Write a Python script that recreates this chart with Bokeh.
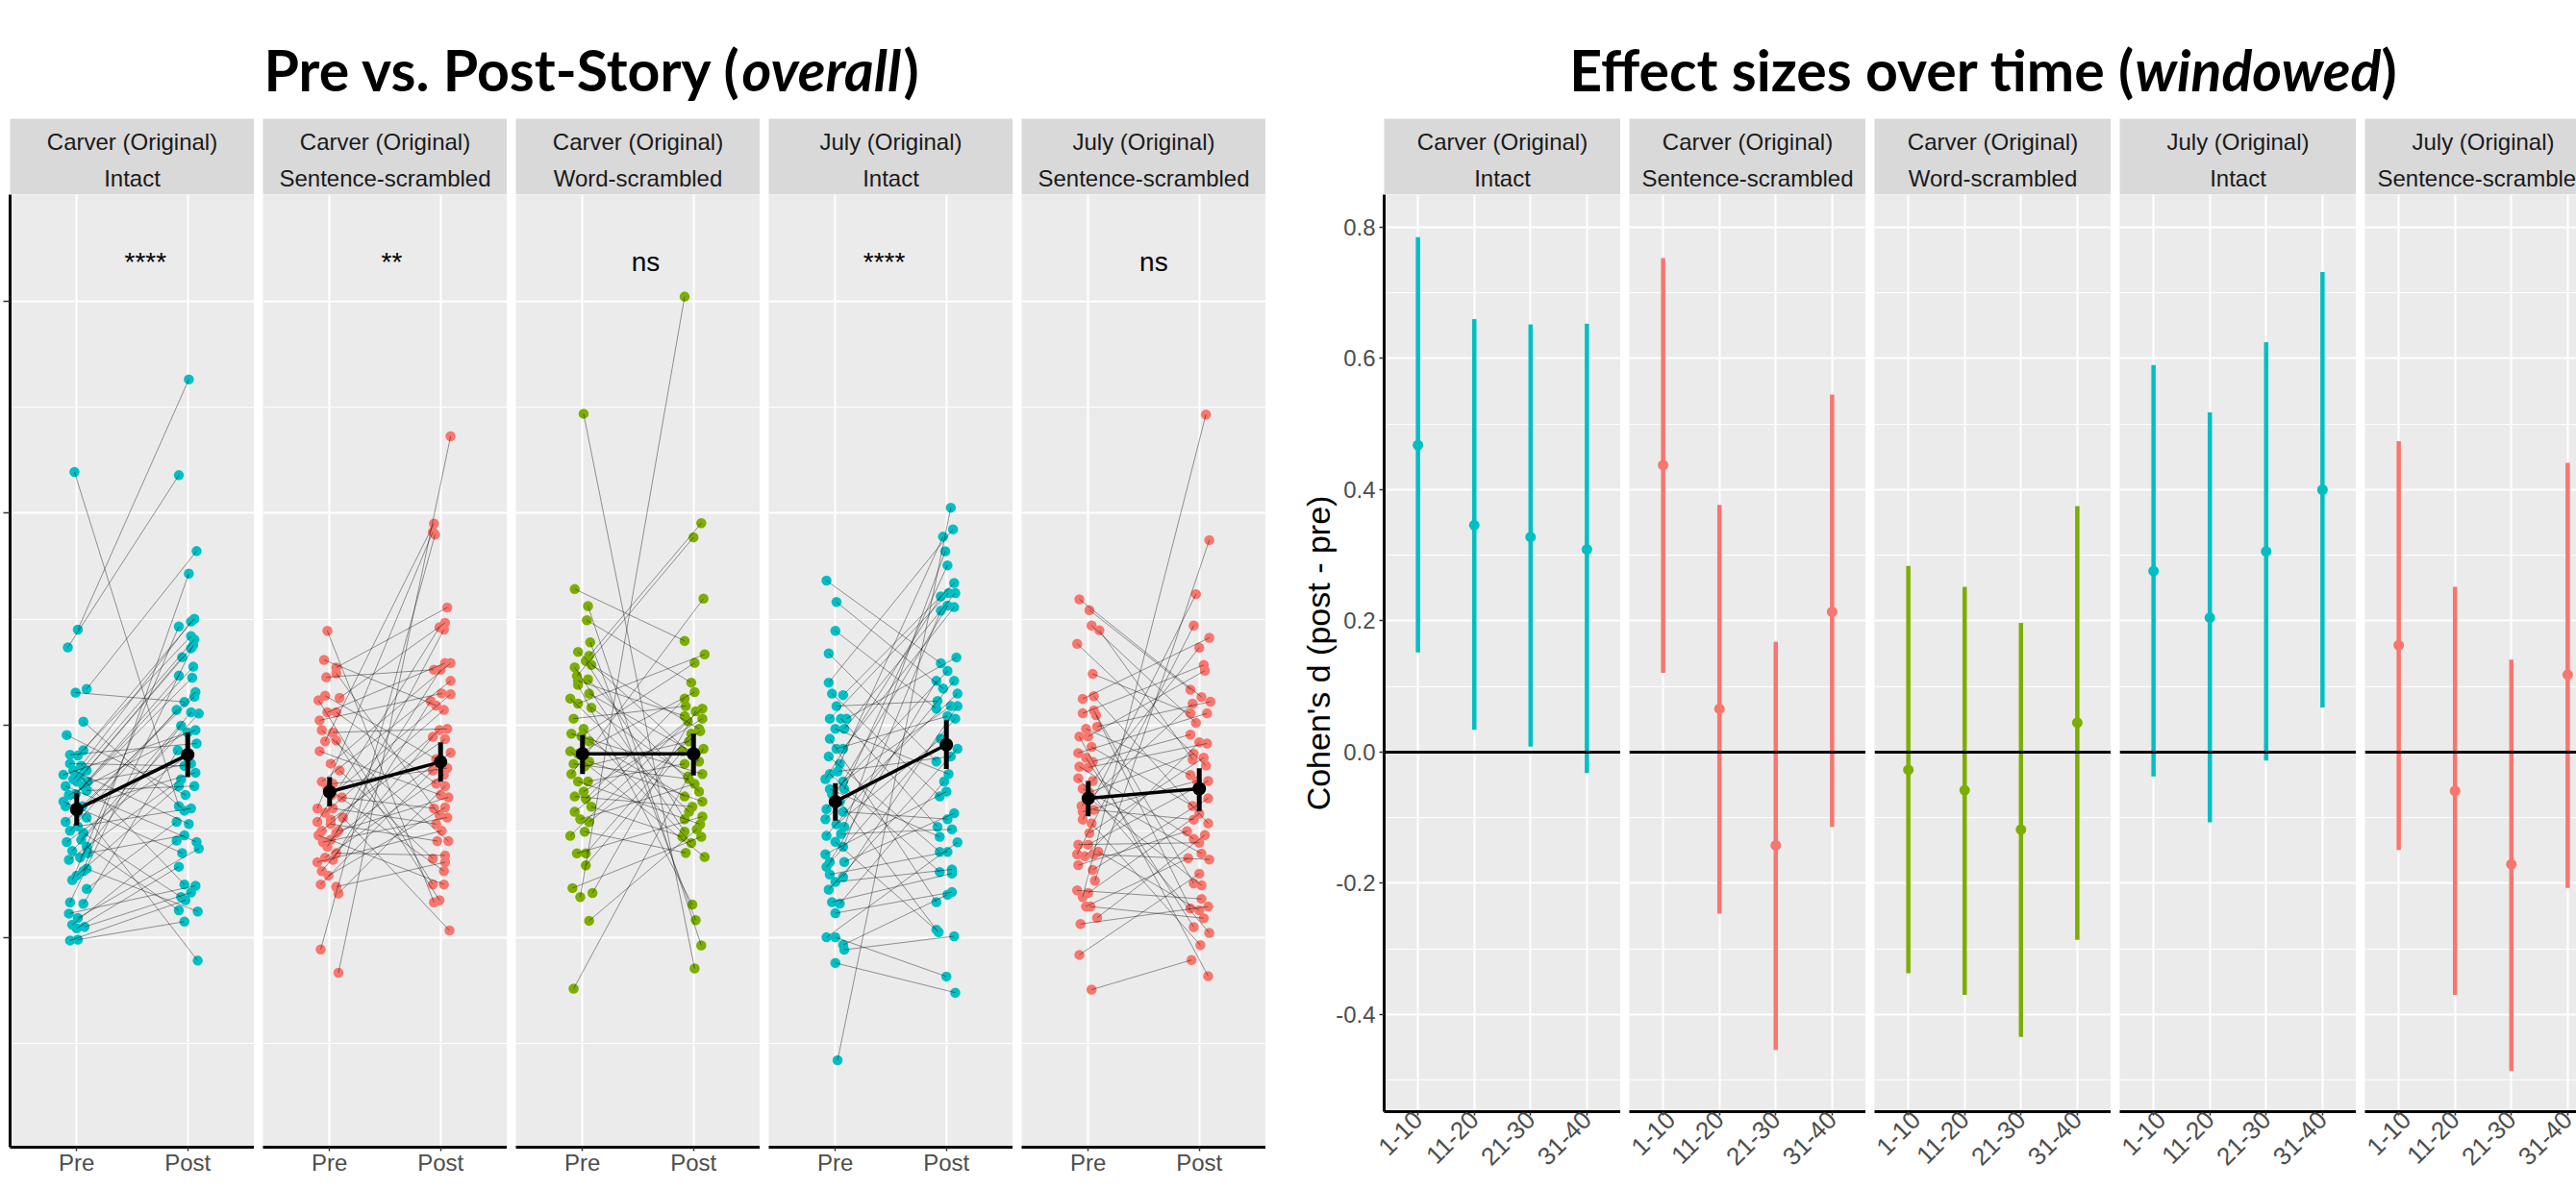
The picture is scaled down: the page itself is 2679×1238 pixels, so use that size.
import math
from bokeh.plotting import figure
from bokeh.models import Range1d, FixedTicker, Span, Label
from bokeh.layouts import row, column
from bokeh.embed import file_html
from bokeh.resources import INLINE
from bokeh.core.properties import value

# ---------------- data: left chart (pre vs post, overall) ----------------
strip_story = ["Carver (Original)", "Carver (Original)", "Carver (Original)", "July (Original)", "July (Original)"]
strip_version = ["Intact", "Sentence-scrambled", "Word-scrambled", "Intact", "Sentence-scrambled"]
conditions = ["Pre", "Post"]
sig_labels = ["****", "**", "ns", "****", "ns"]
sig_label_x = [1.62, 1.56, 1.57, 1.44, 1.59]
sig_label_y = 0.5184

pre_mean = [0.2603, 0.2686, 0.2865, 0.2640, 0.2655]
pre_lo = [0.2527, 0.2618, 0.2770, 0.2550, 0.2570]
pre_hi = [0.2682, 0.2755, 0.2953, 0.2727, 0.2737]
post_mean = [0.2861, 0.2827, 0.2865, 0.2908, 0.2701]
post_lo = [0.2755, 0.2734, 0.2763, 0.2794, 0.2595]
post_hi = [0.2966, 0.2920, 0.2960, 0.3024, 0.2797]

pre_1 = [0.4194,0.3451,0.3367,0.3171,0.3154,0.3017,0.2954,0.2882,0.2861,0.2857,
         0.2819,0.2808,0.2787,0.2787,0.2766,0.2760,0.2745,0.2734,0.2734,0.2713,
         0.2713,0.2692,0.2675,0.2671,0.2640,0.2618,0.2618,0.2587,0.2565,0.2544,
         0.2523,0.2502,0.2492,0.2460,0.2449,0.2428,0.2407,0.2397,0.2376,0.2365,
         0.2323,0.2312,0.2291,0.2270,0.2228,0.2165,0.2158,0.2112,0.2091,0.2059,
         0.2049,0.2042,0.1985,0.1989]
pre_jit_1 = [-0.02,0.01,-0.08,0.09,-0.01,0.06,-0.09,0.06,-0.06,0.01,
             -0.06,0.04,-0.03,0.09,-0.12,0.03,-0.03,0.10,0.00,-0.10,
             0.06,0.09,-0.01,-0.07,-0.12,-0.10,0.05,0.01,0.09,-0.10,
             0.01,-0.06,0.06,0.04,-0.09,0.09,-0.04,0.10,0.03,-0.07,
             0.09,0.06,0.00,-0.04,0.09,-0.06,0.06,-0.07,0.01,-0.04,
             0.07,0.00,-0.06,0.01]
post_1 = [0.2618,0.4631,0.4179,0.3821,0.3110,0.2597,0.2671,0.3502,0.2914,0.3420,
          0.2808,0.3489,0.2534,0.3363,0.2977,0.2249,0.3405,0.2819,0.3321,0.2449,
          0.3276,0.2713,0.3224,0.2966,0.2397,0.3234,0.2776,0.3156,0.1890,0.3135,
          0.2608,0.3072,0.2190,0.3061,0.2861,0.2127,0.3055,0.2481,0.2998,0.2745,
          0.2122,0.3715,0.2713,0.3466,0.2544,0.3378,0.2882,0.2243,0.2418,0.2456,
          0.2211,0.2333,0.2175,0.2074]
post_jit_1 = [-0.08,0.01,-0.08,0.08,-0.03,-0.03,-0.02,0.06,0.08,0.03,
              -0.03,0.03,0.01,0.03,0.07,-0.03,0.06,0.03,-0.05,0.08,
              0.05,0.06,0.04,0.00,-0.05,-0.08,0.07,0.07,0.09,0.06,
              0.03,-0.10,-0.06,0.03,0.01,-0.08,0.10,-0.03,-0.06,-0.06,
              0.09,0.01,-0.08,-0.08,-0.10,0.05,-0.09,0.07,0.10,-0.10,
              0.03,-0.08,-0.02,-0.03]

pre_2 = [0.3445,0.3308,0.3272,0.3245,0.3226,0.3139,0.3129,0.3118,0.3061,0.3061,
         0.3023,0.2977,0.2966,0.2928,0.2924,0.2878,0.2819,0.2787,0.2734,0.2724,
         0.2703,0.2671,0.2660,0.2608,0.2608,0.2587,0.2565,0.2555,0.2544,0.2534,
         0.2502,0.2502,0.2492,0.2481,0.2460,0.2449,0.2428,0.2397,0.2376,0.2365,
         0.2354,0.2312,0.2291,0.2249,0.2238,0.2207,0.1943,0.1833]
pre_jit_2 = [-0.02,-0.05,0.06,0.06,-0.03,-0.04,0.09,-0.10,-0.02,0.06,
             -0.09,-0.07,0.03,0.06,-0.04,-0.09,0.01,0.09,-0.07,0.03,
             -0.02,0.02,0.11,-0.11,0.03,-0.04,0.12,0.01,-0.11,0.01,
             -0.07,0.08,0.06,-0.10,0.01,-0.06,-0.02,0.06,-0.04,0.03,
             -0.11,-0.07,-0.01,-0.08,0.06,0.08,-0.08,0.08]
post_2 = [0.2165,0.3093,0.3555,0.2576,0.3262,0.2840,0.3483,0.2249,0.3293,0.2724,
          0.3150,0.2454,0.2983,0.2175,0.3951,0.2671,0.3293,0.2371,0.3209,0.2798,
          0.2312,0.3146,0.2608,0.3911,0.2534,0.3072,0.2032,0.2935,0.3462,0.2454,
          0.2977,0.2660,0.3451,0.2249,0.2871,0.2565,0.3262,0.2386,0.2766,0.3114,
          0.2502,0.2945,0.2612,0.2787,0.2354,0.2713,0.3899,0.4363]
post_jit_2 = [-0.06,-0.04,0.06,-0.01,-0.06,-0.04,0.04,-0.07,0.04,-0.04,
              0.01,0.07,0.06,-0.01,-0.06,0.00,0.09,-0.07,0.09,0.06,
              0.03,0.09,-0.06,-0.07,-0.04,0.03,0.08,0.04,-0.01,-0.03,
              -0.01,0.07,0.03,0.03,0.09,0.06,0.00,0.04,0.03,-0.09,
              0.01,-0.07,0.04,-0.07,0.04,0.04,-0.05,0.09]

pre_3 = [0.4469,0.3642,0.3562,0.3495,0.3391,0.3346,0.3327,0.3303,0.3284,0.3273,
         0.3232,0.3216,0.3209,0.3190,0.3149,0.3126,0.3102,0.3083,0.3031,0.2983,
         0.2960,0.2948,0.2924,0.2877,0.2865,0.2829,0.2818,0.2806,0.2770,0.2735,
         0.2735,0.2687,0.2664,0.2652,0.2616,0.2592,0.2557,0.2543,0.2498,0.2479,
         0.2396,0.2396,0.2339,0.2232,0.2209,0.2190,0.2078,0.1758]
pre_jit_3 = [0.01,-0.07,0.05,0.04,0.07,-0.04,0.06,0.03,0.08,-0.07,
             -0.05,0.05,-0.04,-0.04,0.06,-0.11,-0.04,0.08,-0.08,0.01,
             -0.10,-0.01,0.06,-0.11,-0.04,0.06,-0.08,0.02,-0.10,-0.04,
             0.05,0.01,-0.07,0.03,0.08,-0.07,-0.02,0.06,0.02,-0.11,
             -0.05,0.03,0.03,-0.09,0.09,-0.02,0.06,-0.08]
post_3 = [0.1853,0.3398,0.1962,0.3201,0.2081,0.2829,0.3953,0.2557,0.2983,0.2498,
          0.3886,0.2687,0.3043,0.2154,0.2865,0.2592,0.3334,0.2758,0.3090,0.2445,
          0.2770,0.3294,0.2664,0.2379,0.3156,0.2640,0.2746,0.2924,0.3597,0.2533,
          0.2818,0.3031,0.2616,0.3126,0.2474,0.3078,0.2723,0.2972,0.2398,0.3019,
          0.2569,0.2960,0.2877,0.2474,0.3066,0.5021,0.2509,0.2889]
post_jit_3 = [0.01,-0.08,0.07,-0.02,0.02,0.05,0.07,-0.08,0.05,-0.08,
              0.00,0.05,-0.08,-0.01,0.02,-0.04,0.10,-0.05,-0.07,-0.02,
              0.08,0.01,-0.08,0.10,0.01,0.08,-0.04,-0.04,0.09,0.06,
              -0.08,0.08,-0.01,-0.08,-0.10,0.08,0.01,0.06,-0.07,-0.05,
              0.08,-0.02,-0.10,0.07,0.02,-0.08,0.03,0.09]

pre_4 = [0.3682,0.3581,0.3445,0.3339,0.3201,0.3149,0.3142,0.3090,0.3031,0.3031,
         0.3031,0.2983,0.2983,0.2936,0.2889,0.2889,0.2853,0.2818,0.2782,0.2770,
         0.2746,0.2735,0.2699,0.2699,0.2675,0.2640,0.2604,0.2592,0.2557,0.2533,
         0.2521,0.2488,0.2479,0.2450,0.2427,0.2391,0.2355,0.2355,0.2332,0.2296,
         0.2284,0.2261,0.2225,0.2166,0.2159,0.2114,0.2000,0.2000,0.1964,0.1941,
         0.1879,0.1420]
pre_jit_4 = [-0.08,0.01,0.00,-0.06,-0.06,-0.03,0.07,0.01,-0.05,0.05,
             0.10,0.00,0.08,-0.05,0.07,0.01,-0.06,0.04,0.02,-0.05,
             -0.09,0.07,-0.05,0.08,-0.03,0.04,-0.08,0.07,-0.09,0.01,
             0.08,0.05,-0.08,0.00,0.07,-0.09,-0.05,0.08,-0.08,-0.05,
             0.07,0.00,-0.06,-0.03,0.04,0.00,-0.08,0.00,0.07,0.08,
             0.00,0.02]
post_4 = [0.3292,0.3173,0.3078,0.2829,0.3924,0.2664,0.3671,0.3114,0.3623,0.2521,
          0.3320,0.2770,0.3623,0.2166,0.3557,0.3043,0.2403,0.3889,0.2853,0.2308,
          0.3607,0.3090,0.2474,0.3754,0.3256,0.2036,0.3564,0.2557,0.3149,0.2936,
          0.3820,0.2509,0.3209,0.2024,0.3540,0.2687,0.3209,0.2585,0.3031,0.2403,
          0.3090,0.2320,0.2889,0.2301,0.2735,0.2213,0.2448,0.1815,0.2201,0.2005,
          0.1739,0.4026]
post_jit_4 = [-0.05,-0.03,-0.09,-0.09,0.06,-0.06,0.07,-0.08,0.02,-0.08,
              0.09,0.02,0.08,-0.09,0.07,0.01,-0.06,-0.03,0.04,-0.06,
              -0.05,0.04,-0.06,0.01,0.01,-0.09,0.01,0.01,0.10,-0.05,
              -0.01,0.05,0.07,-0.07,-0.05,0.00,-0.09,0.07,0.08,0.01,
              0.10,0.05,0.10,0.05,-0.02,0.05,0.10,0.00,0.01,0.07,
              0.08,0.04]

pre_5 = [0.3594,0.3543,0.3470,0.3448,0.3384,0.3242,0.3137,0.3124,0.3069,0.3056,
         0.3047,0.2993,0.2983,0.2947,0.2947,0.2898,0.2869,0.2847,0.2828,0.2805,
         0.2801,0.2750,0.2737,0.2701,0.2683,0.2655,0.2619,0.2601,0.2592,0.2555,
         0.2537,0.2491,0.2437,0.2437,0.2404,0.2391,0.2391,0.2382,0.2340,0.2318,
         0.2267,0.2221,0.2209,0.2190,0.2145,0.2145,0.2092,0.2063,0.1917,0.1753]
pre_jit_5 = [-0.08,0.01,0.03,0.10,-0.10,0.04,0.05,-0.05,0.05,-0.05,
             0.07,0.08,-0.02,-0.08,0.00,0.03,-0.09,-0.02,0.04,-0.08,
             0.00,-0.09,0.04,-0.05,0.01,0.01,-0.06,0.05,-0.05,-0.05,
             0.03,0.01,-0.09,0.00,0.09,-0.10,0.05,-0.03,-0.09,0.04,
             0.06,-0.10,0.00,-0.05,-0.02,0.02,0.08,-0.07,-0.08,0.03]
post_5 = [0.3133,0.3168,0.3011,0.2838,0.2810,0.3056,0.2537,0.3412,0.2254,0.3284,
          0.2136,0.3111,0.2765,0.1817,0.3257,0.2619,0.3056,0.2048,0.2956,0.2464,
          0.2914,0.2021,0.3366,0.2395,0.2865,0.2245,0.3102,0.2555,0.2737,0.3618,
          0.1963,0.2847,0.2446,0.2737,0.2127,0.3470,0.2367,0.2920,0.2500,0.2655,
          0.3873,0.2181,0.2583,0.4465,0.2373,0.2090,0.2482,0.2145,0.2300,0.1893]
post_jit_5 = [0.02,-0.08,-0.03,-0.06,0.06,-0.08,0.08,0.09,-0.05,0.04,
              -0.08,0.10,-0.08,0.08,0.05,-0.06,0.07,-0.05,-0.08,-0.05,
              0.07,0.09,0.00,0.02,-0.05,0.02,-0.06,-0.05,-0.02,-0.03,
              0.01,0.04,0.00,0.08,0.00,-0.05,0.09,0.00,-0.11,0.08,
              0.09,0.02,0.00,0.06,-0.10,0.04,0.05,0.08,0.00,-0.07]

left_y_major = [0.2, 0.3, 0.4, 0.5]
left_y_minor = [0.15, 0.25, 0.35, 0.45]

# ---------------- data: right chart (effect sizes, windowed) ----------------
windows = ["1-10", "11-20", "21-30", "31-40"]
d_est = [[0.468, 0.346, 0.328, 0.309],
         [0.4375, 0.066, -0.142, 0.214],
         [-0.027, -0.058, -0.118, 0.045],
         [0.276, 0.205, 0.306, 0.400],
         [0.163, -0.059, -0.171, 0.118]]
d_lo = [[0.152, 0.034, 0.0085, -0.032],
        [0.121, -0.246, -0.454, -0.114],
        [-0.337, -0.370, -0.434, -0.286],
        [-0.037, -0.107, -0.013, 0.068],
        [-0.149, -0.370, -0.486, -0.207]]
d_hi = [[0.785, 0.660, 0.652, 0.653],
        [0.753, 0.377, 0.168, 0.545],
        [0.284, 0.252, 0.197, 0.375],
        [0.590, 0.518, 0.625, 0.732],
        [0.474, 0.252, 0.141, 0.441]]
d_ticks = [-0.4, -0.2, 0.0, 0.2, 0.4, 0.6, 0.8]
d_tick_labels = ["-0.4", "-0.2", "0.0", "0.2", "0.4", "0.6", "0.8"]
d_minor = [-0.5, -0.3, -0.1, 0.1, 0.3, 0.5, 0.7]

# ---------------- styles ----------------
FONT = "Liberation Sans"
TITLE_FONT = "Lato"
TEAL, SALMON, GREEN = "#00BFC4", "#F8766D", "#7CAE00"
panel_colors = [TEAL, SALMON, GREEN, TEAL, SALMON]
PANEL_BG, STRIP_BG = "#EBEBEB", "#D9D9D9"

pres = [pre_1, pre_2, pre_3, pre_4, pre_5]
pre_jits = [pre_jit_1, pre_jit_2, pre_jit_3, pre_jit_4, pre_jit_5]
posts = [post_1, post_2, post_3, post_4, post_5]
post_jits = [post_jit_1, post_jit_2, post_jit_3, post_jit_4, post_jit_5]

TOTAL_W = 2679
TITLE_H, STRIP_H, PANEL_H = 123, 79, 1036
L_W, L_BOT, L_LEFT = 254, 45, 10
R_W, R_BOT, R_AXIS = 246, 82, 123
R_LAST_W = 220
GAP = 9


def base_panel(p):
    p.background_fill_color = PANEL_BG
    p.border_fill_color = "white"
    p.outline_line_color = None
    for g in (p.xgrid, p.ygrid):
        g.grid_line_color = "white"
        g.grid_line_width = 2
        g.minor_grid_line_color = "white"
        g.minor_grid_line_width = 1


def style_xaxis(p, ticks, overrides, standoff, size="24px"):
    ax = p.xaxis
    ax.ticker = FixedTicker(ticks=ticks)
    ax.major_label_overrides = overrides
    ax.axis_line_color = "black"
    ax.axis_line_width = 3
    ax.major_tick_line_color = "#333333"
    ax.major_tick_line_width = 1.5
    ax.major_tick_out = 4
    ax.major_tick_in = 0
    ax.minor_tick_out = 0
    ax.minor_tick_in = 0
    ax.major_label_text_font = FONT
    ax.major_label_text_font_size = size
    ax.major_label_text_color = "#4D4D4D"
    ax.major_label_standoff = standoff


def strip(i, width, full_width, left):
    s = figure(width=width + left, height=STRIP_H, x_range=Range1d(0, width), y_range=Range1d(0, STRIP_H),
               output_backend="svg", toolbar_location=None,
               x_axis_location=None, y_axis_location=None,
               min_border_left=left, min_border_right=0, min_border_top=0, min_border_bottom=0)
    s.background_fill_color = STRIP_BG
    s.border_fill_color = "white"
    s.outline_line_color = None
    s.xgrid.visible = False
    s.ygrid.visible = False
    s.text(x=[full_width / 2, full_width / 2], y=[55.5, 17.2], text=[strip_story[i], strip_version[i]],
           text_font=value(FONT), text_font_size="24px", text_color="#1A1A1A",
           text_align="center", text_baseline="alphabetic")
    return s


def left_panel(i):
    first = i == 0
    p = figure(width=L_W + (L_LEFT if first else 0), height=PANEL_H,
               x_range=Range1d(0.4, 2.6), y_range=Range1d(0.101, 0.5502),
               output_backend="svg", toolbar_location=None,
               y_axis_location="left" if first else None,
               min_border_left=L_LEFT if first else 0, min_border_right=0,
               min_border_top=0, min_border_bottom=L_BOT)
    base_panel(p)
    p.xgrid.ticker = FixedTicker(ticks=[1, 2])
    p.ygrid.ticker = FixedTicker(ticks=left_y_major, minor_ticks=left_y_minor)
    style_xaxis(p, [1, 2], {k + 1: c for k, c in enumerate(conditions)}, -2)
    if first:
        ax = p.yaxis
        ax.ticker = FixedTicker(ticks=left_y_major)
        ax.axis_line_color = "black"
        ax.axis_line_width = 3
        ax.major_label_text_font_size = "1px"
        ax.major_label_text_color = None
        ax.major_label_standoff = 0
        ax.major_tick_line_color = "#333333"
        ax.major_tick_line_width = 1.5
        ax.major_tick_out = 7
        ax.major_tick_in = 0
        ax.minor_tick_out = 0
        ax.minor_tick_in = 0
    pre, pj, post, qj = pres[i], pre_jits[i], posts[i], post_jits[i]
    assert len(pre) == len(pj) == len(post) == len(qj)
    xp = [1 + j for j in pj]
    xq = [2 + j for j in qj]
    c = panel_colors[i]
    p.scatter(xp, pre, size=10.5, fill_color=c, line_color=None)
    p.scatter(xq, post, size=10.5, fill_color=c, line_color=None)
    p.segment(x0=xp, y0=pre, x1=xq, y1=post, line_color="black", line_alpha=0.4, line_width=1)
    p.line([1, 2], [pre_mean[i], post_mean[i]], line_color="black", line_width=3.5)
    p.segment(x0=[1, 2], y0=[pre_lo[i], post_lo[i]], x1=[1, 2], y1=[pre_hi[i], post_hi[i]],
              line_color="black", line_width=5)
    p.scatter([1, 2], [pre_mean[i], post_mean[i]], size=14, fill_color="black", line_color=None)
    p.text(x=[sig_label_x[i]], y=[sig_label_y], text=[sig_labels[i]],
           text_font=value(FONT), text_font_size="28px", text_color="black",
           text_align="center", text_baseline="alphabetic")
    if i == 2:
        p.add_layout(Label(x=1.5, y=0.0883, text="Condition", text_font=FONT,
                           text_font_size="30px", text_color="black",
                           text_align="center", text_baseline="top"))
    return p


def right_panel(i):
    first = i == 0
    last = i == 4
    w = R_LAST_W if last else R_W
    x_end = 0.4 + w / (R_W / 4.2)
    p = figure(width=w + (R_AXIS if first else 0), height=PANEL_H,
               x_range=Range1d(0.4, x_end), y_range=Range1d(-0.548, 0.8498),
               output_backend="svg", toolbar_location=None,
               y_axis_location="left" if first else None,
               min_border_left=R_AXIS if first else 0, min_border_right=0,
               min_border_top=0, min_border_bottom=R_BOT)
    base_panel(p)
    p.xgrid.ticker = FixedTicker(ticks=[1, 2, 3, 4])
    p.ygrid.ticker = FixedTicker(ticks=d_ticks, minor_ticks=d_minor)
    style_xaxis(p, [1, 2, 3, 4], {k + 1: wl for k, wl in enumerate(windows)}, 0, "26px")
    p.xaxis.major_label_orientation = math.pi / 4
    if first:
        ax = p.yaxis
        ax.ticker = FixedTicker(ticks=d_ticks)
        ax.major_label_overrides = {t: l for t, l in zip(d_ticks, d_tick_labels)}
        ax.axis_line_color = "black"
        ax.axis_line_width = 3
        ax.major_tick_line_color = "#333333"
        ax.major_tick_line_width = 1.5
        ax.major_tick_out = 5
        ax.major_tick_in = 0
        ax.minor_tick_out = 0
        ax.minor_tick_in = 0
        ax.major_label_text_font = FONT
        ax.major_label_text_font_size = "24px"
        ax.major_label_text_color = "#4D4D4D"
        ax.major_label_standoff = 4
        ax.axis_label = "Cohen's d (post - pre)"
        ax.axis_label_text_font = FONT
        ax.axis_label_text_font_size = "34px"
        ax.axis_label_text_font_style = "normal"
        ax.axis_label_text_color = "black"
        ax.axis_label_standoff = -4
    p.add_layout(Span(location=0, dimension="width", line_color="black", line_width=3))
    xs = [1, 2, 3, 4]
    c = panel_colors[i]
    p.segment(x0=xs, y0=d_lo[i], x1=xs, y1=d_hi[i], line_color=c, line_width=4.5)
    p.scatter(xs, d_est[i], size=11, fill_color=c, line_color=None)
    if i == 2:
        p.add_layout(Label(x=2.5, y=-0.6417, text="Binned free associate position", text_font=FONT,
                           text_font_size="30px", text_color="black",
                           text_align="center", text_baseline="top"))
    return p


# ---------------- titles ----------------
tfig = figure(width=TOTAL_W, height=TITLE_H, x_range=Range1d(0, TOTAL_W), y_range=Range1d(0, TITLE_H),
              output_backend="svg", toolbar_location=None,
              x_axis_location=None, y_axis_location=None,
              min_border_left=0, min_border_right=0, min_border_top=0, min_border_bottom=0)
tfig.outline_line_color = None
tfig.xgrid.visible = False
tfig.ygrid.visible = False
TSIZE = "59px"
TITLE_Y = 51
W_OVERALL = 168
W_WINDOWED = 256
for anchor, head, word, wlen in [(771, "Pre vs. Post-Story (", "overall", W_OVERALL),
                                 (2220, "Effect sizes over time (", "windowed", W_WINDOWED)]:
    tfig.text(x=[anchor], y=[TITLE_Y], text=[head], text_font=value(TITLE_FONT), text_font_size=TSIZE,
              text_font_style="bold", text_align="right", text_baseline="alphabetic", text_color="black")
    tfig.text(x=[anchor], y=[TITLE_Y], text=[word], text_font=value(TITLE_FONT), text_font_size=TSIZE,
              text_font_style="bold italic", text_align="left", text_baseline="alphabetic", text_color="black")
    tfig.text(x=[anchor + wlen], y=[TITLE_Y], text=[")"], text_font=value(TITLE_FONT), text_font_size=TSIZE,
              text_font_style="bold", text_align="left", text_baseline="alphabetic", text_color="black")

# ---------------- layout ----------------
left_strips = row([strip(i, L_W, L_W, L_LEFT if i == 0 else 0) for i in range(5)], spacing=GAP)
left_panels = row([left_panel(i) for i in range(5)], spacing=GAP)
right_strips = row([strip(i, R_LAST_W if i == 4 else R_W, R_W, R_AXIS if i == 0 else 0) for i in range(5)],
                   spacing=GAP)
right_panels = row([right_panel(i) for i in range(5)], spacing=GAP)

left_col = column(left_strips, left_panels, spacing=0)
right_col = column(right_strips, right_panels, spacing=0)
page = column(tfig, row(left_col, right_col, spacing=0), spacing=0)

open("out.html", "w").write(file_html(page, INLINE))
